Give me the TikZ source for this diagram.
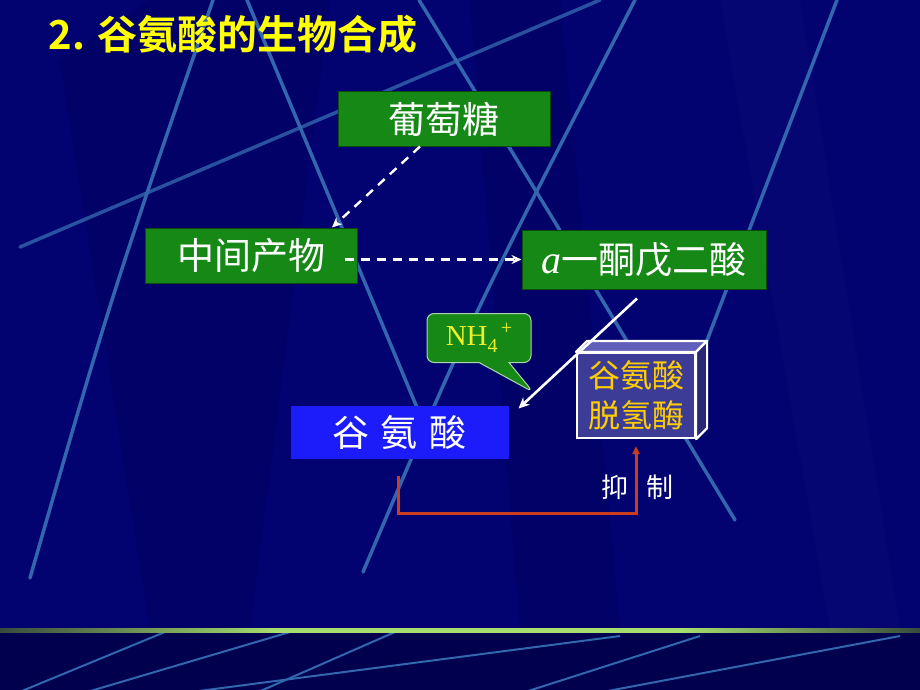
\documentclass[tikz,border=0pt]{standalone}
\usepackage{fontspec}
\usepackage{tikz}
\usetikzlibrary{arrows.meta, shapes.callouts}

\setmainfont{Liberation Serif}
\newfontfamily\cjk{Noto Sans CJK SC}[BoldFont={Noto Sans CJK SC Bold}]

\definecolor{slidebg}{RGB}{2,2,112}
\definecolor{slidefoot}{RGB}{0,0,78}
\definecolor{streak}{RGB}{50,102,175}
\definecolor{rulegreen}{RGB}{165,222,110}
\definecolor{ruledark}{RGB}{55,75,60}
\definecolor{boxgreen}{RGB}{22,136,22}
\definecolor{boxblue}{RGB}{28,28,250}
\definecolor{enzfront}{RGB}{60,60,150}
\definecolor{enztop}{RGB}{96,96,186}
\definecolor{enzside}{RGB}{40,40,118}
\definecolor{inhibit}{RGB}{200,62,30}
\definecolor{titleyellow}{RGB}{255,255,0}
\definecolor{enzyellow}{RGB}{255,205,0}
\definecolor{nhyellow}{RGB}{240,240,40}

\pgfdeclarehorizontalshading{rulefade}{100bp}{color(0bp)=(ruledark); color(25bp)=(ruledark);
  color(40bp)=(rulegreen); color(62bp)=(rulegreen); color(75bp)=(ruledark); color(100bp)=(ruledark)}

\tikzset{
  compound/.style={rectangle, fill=boxgreen, draw=boxgreen!55!black, line width=1pt,
    inner sep=0pt, text=white, font=\cjk\fontsize{37}{40}\selectfont},
  product/.style={compound, fill=boxblue, draw=boxblue},
  flow/.style={white, line width=2.4pt, dash pattern=on 9pt off 7pt,
    -{Stealth[length=10pt,width=9pt]}},
  react/.style={white, line width=2.6pt, -{Stealth[length=11pt,width=10pt]}},
  inhib/.style={inhibit, line width=3pt, -{Triangle[length=8pt,width=7pt]}},
}

\begin{document}
\begin{tikzpicture}[x=1pt,y=-1pt]
  \useasboundingbox (0,0) rectangle (920,690);

  % Slide background
  \fill[slidebg] (0,0) rectangle (920,628);
  \fill[black,opacity=0.08] (60,60) -- (150,0) -- (330,0) -- (250,628) -- (150,628) -- cycle;
  \fill[black,opacity=0.08] (470,0) -- (560,0) -- (620,628) -- (520,628) -- cycle;
  \fill[white,opacity=0.02] (720,0) -- (800,0) -- (900,628) -- (830,628) -- cycle;
  \fill[slidefoot] (0,628) rectangle (920,690);

  % Light streaks
  \begin{scope}[streak, line width=3.5pt, line cap=round]
    \draw (213,0) .. controls (110,300) .. (30,578);
    \draw (247,0) -- (418,410);
    \draw[opacity=0.8] (20,247) -- (600,0);
    \draw (635,0) .. controls (470,320) .. (363,572);
    \draw (419,0) .. controls (560,230) .. (735,520);
    \draw (837,0) -- (690,385);
  \end{scope}
  \begin{scope}[streak, line width=2pt]
    \clip (0,632) rectangle (920,690);
    \draw (165,632) -- (0,700);
    \draw (290,632) -- (60,700);
    \draw (620,636) -- (130,700);
    \draw (395,632) -- (240,700);
    \draw (700,636) -- (500,700);
    \draw (900,636) -- (560,700);
  \end{scope}
  \shade[shading=rulefade] (0,628) rectangle (920,632);

  % Title
  \node[anchor=west, text=titleyellow, font=\cjk\bfseries\fontsize{40}{44}\selectfont] (title) at (45,34)
    {2. 谷氨酸的生物合成};

  % Compounds
  \node[compound, minimum width=212pt, minimum height=54pt] (glc) at (444,119) {葡萄糖};
  \node[compound, minimum width=212pt, minimum height=55pt] (mid) at (251,255.5) {中间产物};
  \node[compound, minimum width=244pt, minimum height=59pt] (akg) at (644,259.5)
    {{\rmfamily\itshape\fontsize{40}{40}\selectfont a}一酮戊二酸};
  \node[product, minimum width=217pt, minimum height=52pt] (glu) at (399.5,432)
    {谷\hspace{12pt}氨\hspace{12pt}酸};

  % Enzyme block
  \node[rectangle, fill=enzfront, draw=white, line width=2.2pt, minimum width=118pt, minimum height=85pt,
    align=center, text=enzyellow, font=\cjk\fontsize{32}{40}\selectfont] (enz) at (636,395.5)
    {谷氨酸\\脱氢酶};
  \filldraw[fill=enztop, draw=white, line width=2.2pt, line join=round]
    (enz.north west) -- ++(11,-11) -- ([shift={(11,-11)}]enz.north east) -- (enz.north east) -- cycle;
  \filldraw[fill=enzside, draw=white, line width=2.2pt, line join=round]
    (enz.north east) -- ++(11,-11) -- ([shift={(11,-11)}]enz.south east) -- (enz.south east) -- cycle;

  % Ammonium callout
  \node[rectangle callout, fill=boxgreen, draw=white!65!boxgreen, line width=1pt, rounded corners=7pt,
    minimum width=104pt, minimum height=49pt, callout absolute pointer={(533,392)},
    callout pointer width=30pt, text=nhyellow, font=\fontsize{29}{30}\selectfont] (nh4) at (479,338)
    {NH\raisebox{-7pt}{\fontsize{20}{20}\selectfont 4}\raisebox{11pt}{\fontsize{20}{20}\selectfont\,+}};

  % Pathway
  \draw[flow] ([xshift=-24pt]glc.south) -- ([xshift=81pt]mid.north);
  \draw[flow] ([xshift=-13pt]mid.east |- akg.west) -- (akg.west);
  \draw[react] ([xshift=-7pt,yshift=-9pt]akg.south) -- ([xshift=10pt,yshift=-3pt]glu.north east);

  % Feedback inhibition
  \draw[inhib] ([xshift=-1.5pt,yshift=-17pt]glu.south) -- ++(0,38) -| ([yshift=-7pt]enz.south);
  \node[text=white, font=\cjk\fontsize{27}{30}\selectfont] (inhlabel) at (637.5,487)
    {抑\hspace{19pt}制};
\end{tikzpicture}
\end{document}
